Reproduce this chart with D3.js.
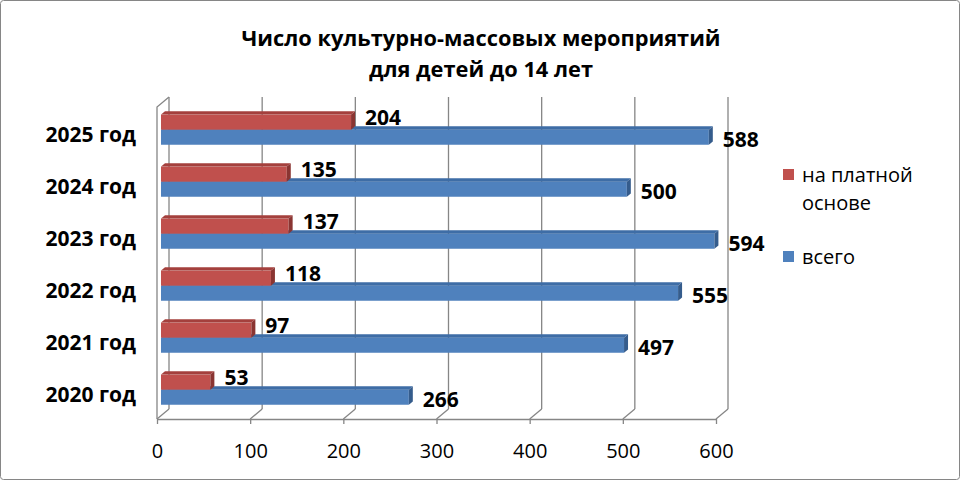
<!DOCTYPE html>
<html>
<head>
<meta charset="utf-8">
<script src="https://cdn.jsdelivr.net/npm/d3@7"></script>
<style>
  body { margin: 0; background: #fff; }
  svg { font-family: "Open Sans", sans-serif; }
</style>
</head>
<body>
<div id="chart"></div>
<script>
// Data
const years = ["2020 год", "2021 год", "2022 год", "2023 год", "2024 год", "2025 год"]
const paid = [53, 97, 118, 137, 135, 204] // на платной основе
const total = [266, 497, 555, 594, 500, 588] // всего
const seriesNames = ["на платной основе", "всего"]
const xTicks = [0, 100, 200, 300, 400, 500, 600]

const width = 960
const height = 480

// 3D floor/wall geometry
const front = { top: 107, bottom: 419 }
const depth = { dx: 12, dy: -10 } // full depth of the plot box
const barDepth = [1 / 3, 2 / 3] // bars sit in the middle of the box

const colors = {
  paid: { face: "#C0504D", top: "#A4403D", side: "#8A3532" },
  total: { face: "#4F81BD", top: "#3E6DA6", side: "#355C8C" }
}

const svg = d3
  .select("#chart")
  .append("svg")
  .attr("width", width)
  .attr("height", height)

// Outer frame
svg
  .append("rect")
  .attr("x", 0.5)
  .attr("y", 0.5)
  .attr("width", width - 1)
  .attr("height", height - 1)
  .attr("rx", 3)
  .attr("fill", "#fff")
  .attr("stroke", "#868686")

// Title
const title = svg
  .append("text")
  .attr("text-anchor", "middle")
  .attr("font-weight", "bold")
  .attr("font-size", 21.8)
  .attr("fill", "#000")
title.append("tspan").attr("x", 481).attr("y", 46).text("Число культурно-массовых мероприятий")
title.append("tspan").attr("x", 481).attr("y", 77).text("для детей до 14 лет")

// Scales
const x = d3.scaleLinear().domain([0, 600]).range([157, 716])
const y = d3
  .scaleBand()
  .domain(years.slice().reverse())
  .range([front.top, front.bottom])
  .paddingInner(0.42)
  .paddingOuter(0.21)
const ySeries = d3.scaleBand().domain(["paid", "total"]).range([0, y.bandwidth()])

const grid = svg.append("g").attr("stroke", "#868686").attr("stroke-width", 1.3).attr("fill", "none")

// Back wall gridlines and floor diagonals
xTicks.forEach((t) => {
  const xb = x(t) + depth.dx
  grid
    .append("line")
    .attr("x1", xb)
    .attr("x2", xb)
    .attr("y1", front.top + depth.dy)
    .attr("y2", front.bottom + depth.dy)
  grid
    .append("line")
    .attr("x1", xb)
    .attr("y1", front.bottom + depth.dy)
    .attr("x2", x(t))
    .attr("y2", front.bottom)
})

// Left wall front edge
grid
  .append("path")
  .attr(
    "d",
    `M${x(0)},${front.bottom}V${front.top}L${x(0) + depth.dx},${front.top + depth.dy}`
  )

// Bottom axis
const xAxis = svg
  .append("g")
  .attr("transform", `translate(0,${front.bottom})`)
  .call(d3.axisBottom(x).tickValues(xTicks).tickSize(5).tickPadding(20).tickSizeOuter(0))
xAxis.select(".domain").attr("stroke", "#868686").attr("stroke-width", 1.3)
xAxis.selectAll(".tick line").attr("stroke", "#868686").attr("stroke-width", 1.3)
xAxis
  .selectAll(".tick text")
  .attr("font-family", "Open Sans")
  .attr("font-size", 20)
  .attr("fill", "#000")

// Category axis
const yAxis = svg
  .append("g")
  .attr("transform", `translate(${x(0)},2)`)
  .call(d3.axisLeft(y).tickSize(0).tickPadding(21))
yAxis.select(".domain").remove()
yAxis
  .selectAll(".tick text")
  .attr("font-family", "Open Sans")
  .attr("font-weight", "bold")
  .attr("font-size", 21)
  .attr("fill", "#000")

// Bars
const ox = depth.dx * barDepth[0]
const oy = depth.dy * barDepth[0]
const bdx = depth.dx * (barDepth[1] - barDepth[0])
const bdy = depth.dy * (barDepth[1] - barDepth[0])

const bars = []
years.forEach((yr, i) => {
  bars.push({ year: yr, key: "total", value: total[i] })
  bars.push({ year: yr, key: "paid", value: paid[i] })
})

const barG = svg.append("g")
bars.forEach((d) => {
  const c = colors[d.key]
  const h = ySeries.bandwidth()
  const x0 = x(0) + ox
  const x1 = x(d.value) + ox
  const yt = y(d.year) + ySeries(d.key) + oy
  const g = barG.append("g")

  g.append("rect")
    .attr("x", x0)
    .attr("y", yt)
    .attr("width", x1 - x0)
    .attr("height", h)
    .attr("fill", c.face)

  g.append("path")
    .attr("d", `M${x0},${yt}L${x1},${yt}L${x1 + bdx},${yt + bdy}L${x0 + bdx},${yt + bdy}Z`)
    .attr("fill", c.top)

  g.append("path")
    .attr("d", `M${x1},${yt}L${x1 + bdx},${yt + bdy}L${x1 + bdx},${yt + bdy + h}L${x1},${yt + h}Z`)
    .attr("fill", c.side)

  g.append("text")
    .attr("x", x1 + bdx + 10)
    .attr("y", yt + h / 2 + (d.key === "paid" ? -4 : 2))
    .attr("dy", "0.35em")
    .attr("font-weight", "bold")
    .attr("font-size", 21)
    .attr("fill", "#000")
    .text(d.value)
})

// Legend
const legend = svg.append("g")
const legendItems = [
  { key: "paid", lines: ["на платной", "основе"], y: 175 },
  { key: "total", lines: ["всего"], y: 257 }
]
legendItems.forEach((item) => {
  legend
    .append("rect")
    .attr("x", 783)
    .attr("y", item.y - 6)
    .attr("width", 11)
    .attr("height", 11)
    .attr("fill", colors[item.key].face)
  const t = legend
    .append("text")
    .attr("font-size", 20)
    .attr("fill", "#000")
  item.lines.forEach((line, j) => {
    t.append("tspan")
      .attr("x", 802)
      .attr("y", item.y + j * 28)
      .attr("dy", "0.35em")
      .text(line)
  })
})
</script>
</body>
</html>
